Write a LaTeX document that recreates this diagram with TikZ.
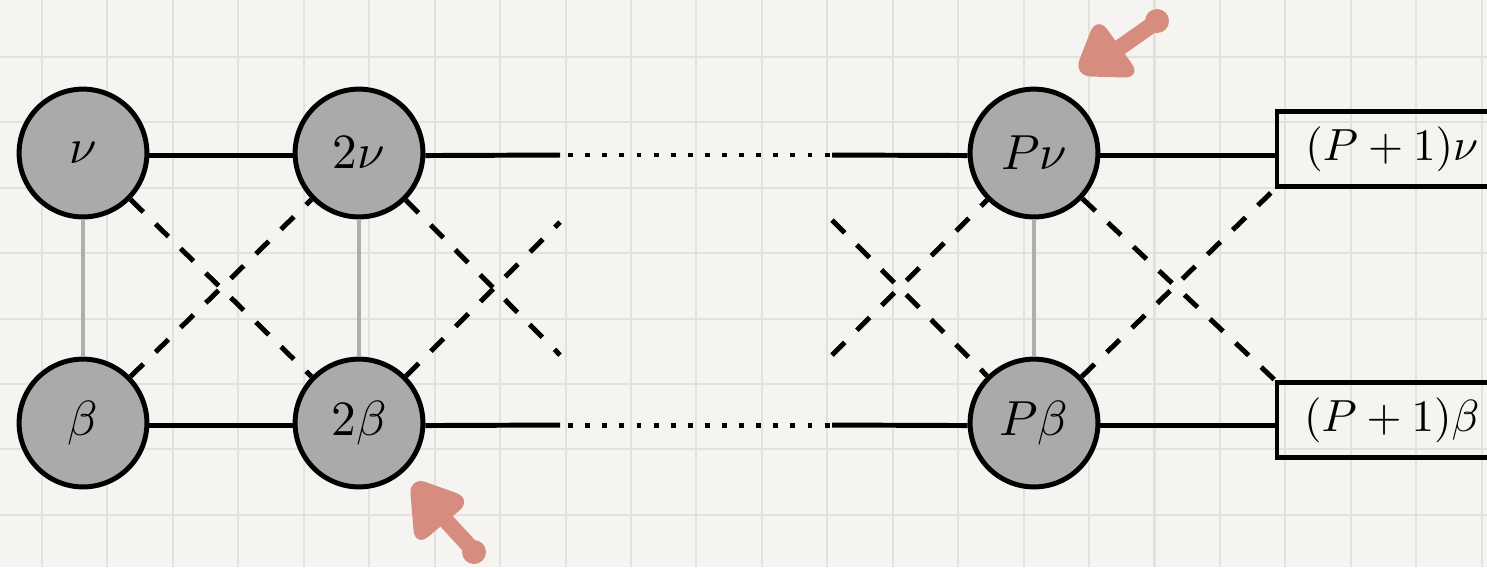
\documentclass[tikz,border=0pt]{standalone}
\usetikzlibrary{calc}
\definecolor{paper}{RGB}{245,244,241}
\definecolor{gridline}{RGB}{226,225,221}
\definecolor{nodefill}{RGB}{170,170,170}
\definecolor{rungline}{RGB}{174,174,174}
\definecolor{marker}{RGB}{214,141,128}
\begin{document}
\begin{tikzpicture}[x=0.2222pt,y=-0.2222pt,
  site/.style={circle, draw=black, line width=1.1pt, fill=nodefill,
    minimum size=28.4pt, inner sep=0pt, font=\fontsize{11}{13}\selectfont},
  endbox/.style={rectangle, draw=black, line width=1.1pt,
    minimum width=51pt, minimum height=16.8pt, inner sep=0pt},
  bond/.style={line width=1.1pt},
  cross/.style={line width=1.1pt, dash pattern=on 4pt off 3.8pt},
  gap/.style={line width=1.1pt, dash pattern=on 1.1pt off 2.7pt, dash phase=2pt},
  rung/.style={line width=1pt, draw=rungline},
  gridrule/.style={draw=gridline, line width=0.45pt},
]
\useasboundingbox (0,0) rectangle (1487,567);
\fill[paper] (0,0) rectangle (1487,567);

% squared paper
\begin{scope}
  \clip (0,0) rectangle (1487,567);
  \foreach \k in {0,...,22} \draw[gridrule] ({42+65.44*\k},0) -- ++(0,567);
  \foreach \k in {0,...,7} \draw[gridrule] (0,{57+65.4*\k}) -- ++(1487,0);
\end{scope}

% sites of the two chains
\node[site] (n1) at (83,153) {$\nu$};
\node[site] (n2) at (359,153) {$2\nu$};
\node[site] (nP) at (1034,153) {$P\nu$};
\node[site] (b1) at (83,423) {$\beta$};
\node[site] (b2) at (359,423) {$2\beta$};
\node[site] (bP) at (1034,423) {$P\beta$};
\node[endbox, anchor=west] (nQ) at (1274.5,149) {$(P+1)\nu$};
\node[endbox, anchor=west] (bQ) at (1274.5,420) {$(P+1)\beta$};

% free ends of the truncated links
\coordinate (nA) at (560,155);
\coordinate (nB) at (832,155);
\coordinate (bA) at (560,425);
\coordinate (bB) at (832,425);
\coordinate (dA) at (560,355);
\coordinate (dB) at (560,222);
\coordinate (dC) at (832,220);
\coordinate (dD) at (832,355);

% horizontal links
\draw[bond] ([yshift=-0.56pt]n1.east) -- ([yshift=-0.56pt]n2.west);
\draw[bond] ([yshift=-0.56pt]n2.east) -- (nA);
\draw[gap] (nA) -- (nB);
\draw[bond] (nB) -- ([yshift=-0.56pt]nP.west);
\path ([yshift=-0.56pt]nP.east) coordinate (nE);
\draw[bond] (nE) -- (nE -| nQ.west);

\draw[bond] ([yshift=-0.56pt]b1.east) -- ([yshift=-0.56pt]b2.west);
\draw[bond] ([yshift=-0.56pt]b2.east) -- (bA);
\draw[gap] (bA) -- (bB);
\draw[bond] (bB) -- ([yshift=-0.56pt]bP.west);
\path ([yshift=-0.56pt]bP.east) coordinate (bE);
\draw[bond] (bE) -- (bE -| bQ.west);

% vertical rungs
\draw[rung] (n1) -- (b1);
\draw[rung] (n2) -- (b2);
\draw[rung] (nP) -- (bP);

% crossed links
\draw[cross] (n1) -- (b2);
\draw[cross] (b1) -- (n2);
\draw[cross] (n2) -- (dA);
\draw[cross] (b2) -- (dB);
\draw[cross] (dC) -- (bP);
\draw[cross] (dD) -- (nP);
\draw[cross] (nP) -- (bQ.north west);
\draw[cross] (bP) -- (nQ.south west);

% hand-drawn pointers
\draw[marker, line width=3.6pt, line cap=round] (1156,22) -- (1112,53);
\fill[marker] (1157,21) circle (12);
\fill[marker, rounded corners=4pt] (1097,15) -- (1073,76) -- (1142,78) -- cycle;

\draw[marker, line width=3.6pt, line cap=round] (474,551) -- (438,512);
\fill[marker] (474,552) circle (12);
\fill[marker, rounded corners=4pt] (409,476) -- (473,499) -- (415,548) -- cycle;
\end{tikzpicture}
\end{document}
